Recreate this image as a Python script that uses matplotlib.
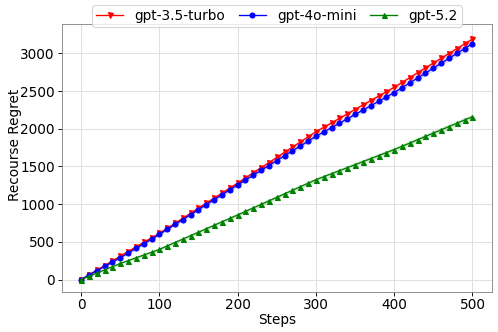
import numpy as np
import matplotlib.pyplot as plt

steps = list(range(0, 501, 10))

gpt35 = [0, 62, 125, 184, 247, 310, 372, 432, 493, 553, 613,
         680, 745, 813, 880, 948, 1014, 1080, 1146, 1213, 1280,
         1348, 1417, 1484, 1551, 1620, 1688, 1756, 1824, 1892, 1960,
         2019, 2078, 2137, 2196, 2256, 2315, 2374, 2432, 2491, 2550,
         2614, 2679, 2743, 2807, 2871, 2934, 2998, 3062, 3126, 3190]

gpt4o_mini = [0, 57, 116, 174, 231, 288, 350, 412, 474, 537, 600,
              665, 731, 796, 862, 928, 994, 1059, 1124, 1190, 1255,
              1320, 1384, 1449, 1513, 1578, 1642, 1707, 1771, 1836, 1900,
              1958, 2016, 2074, 2132, 2190, 2248, 2306, 2364, 2422, 2480,
              2545, 2610, 2675, 2740, 2805, 2870, 2935, 3000, 3065, 3130]

gpt52 = [0, 42, 85, 128, 170, 213, 250, 288, 325, 362, 400,
         446, 491, 537, 583, 628, 674, 720, 766, 811, 857,
         904, 951, 997, 1044, 1090, 1137, 1184, 1231, 1277, 1324,
         1364, 1404, 1444, 1484, 1524, 1564, 1604, 1644, 1684, 1724,
         1768, 1811, 1855, 1899, 1942, 1986, 2030, 2073, 2117, 2160]

# spread of the shaded band
spread = [0, 8, 10, 12, 14, 15, 16, 17, 18, 19, 20,
          20, 21, 21, 22, 22, 23, 23, 24, 24, 25,
          25, 26, 26, 27, 27, 28, 28, 29, 29, 30,
          30, 30, 31, 31, 31, 32, 32, 32, 33, 33,
          33, 34, 34, 34, 35, 35, 35, 36, 36, 36]

series = [
    ('gpt-3.5-turbo', gpt35, 'red', 'v'),
    ('gpt-4o-mini', gpt4o_mini, 'blue', 'o'),
    ('gpt-5.2', gpt52, 'green', '^'),
]

fig, ax = plt.subplots(figsize=(6.225, 4.15), dpi=80)
x = np.array(steps)
sp = np.array(spread)
for name, vals, c, m in series:
    v = np.array(vals)
    ax.fill_between(x, v - sp, v + sp, color=c, alpha=0.15, linewidth=0)
    ax.plot(x, v, color=c, marker=m, markersize=4.5, linewidth=1.2, label=name)

ax.set_xlabel('Steps', fontsize=12.3, labelpad=1)
ax.set_ylabel('Recourse Regret', fontsize=12.3, labelpad=-1.5, y=0.55)
ax.tick_params(labelsize=12.3, pad=2.5)
ax.set_xticks([0, 100, 200, 300, 400, 500])
ax.set_yticks([0, 500, 1000, 1500, 2000, 2500, 3000])
ax.grid(True, color='#dddddd', linewidth=0.8)
ax.set_axisbelow(True)
for s in ax.spines.values():
    s.set_color('#888888')
ax.legend(loc='upper center', bbox_to_anchor=(0.5, 1.072), borderaxespad=0,
          ncol=3, fontsize=12.3, handlelength=2.0, columnspacing=1.0,
          borderpad=0.3)

fig.subplots_adjust(left=0.1235, right=0.988, bottom=0.1214, top=0.927)
plt.savefig('out.png')
